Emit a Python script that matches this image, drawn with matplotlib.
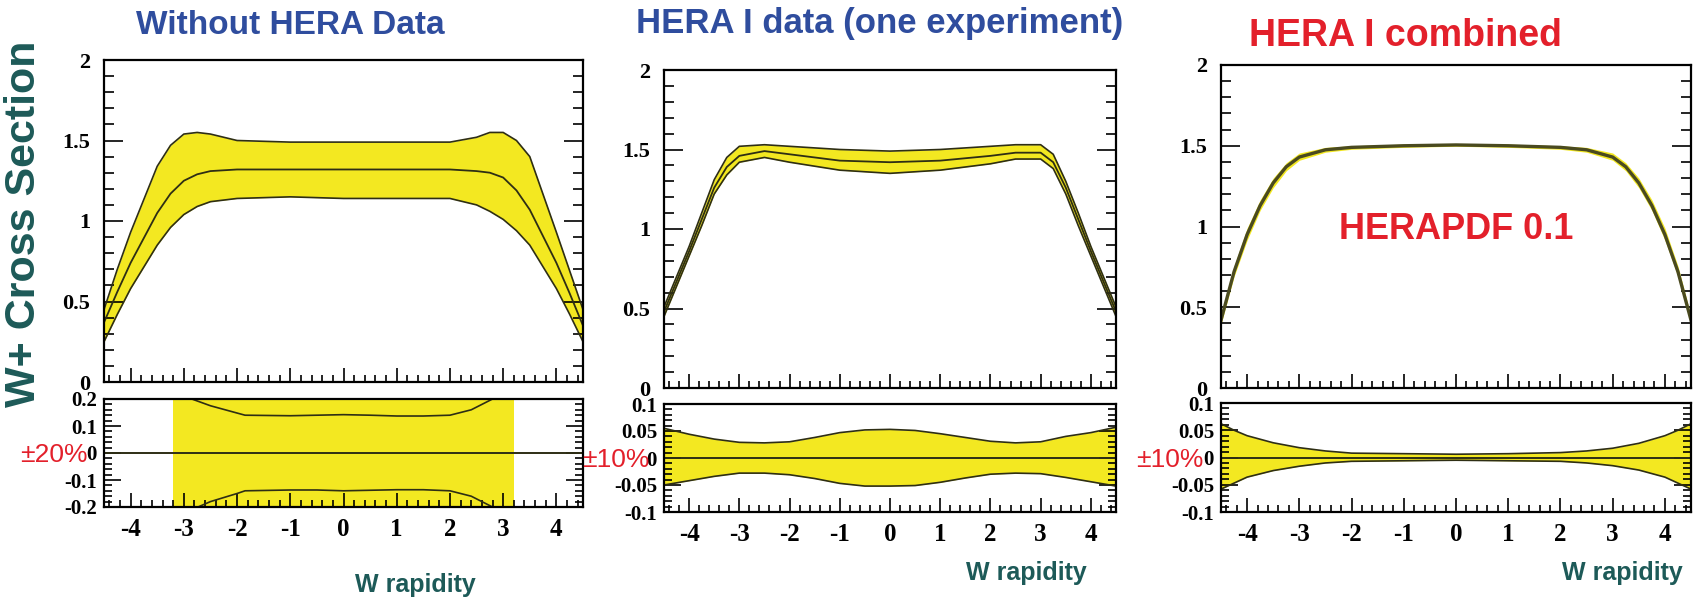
import matplotlib
matplotlib.use('Agg')
import matplotlib.pyplot as plt
from matplotlib.ticker import MultipleLocator, FormatStrFormatter

plt.rcParams['axes.unicode_minus'] = False

# W+ cross section vs W rapidity
# panel 1: without HERA data
p1_x = [-4.5, -4.25, -4.0, -3.5, -3.25, -3.0, -2.75, -2.5, -2.0, -1.0, 0.0, 1.0, 2.0, 2.5, 2.75, 3.0, 3.25, 3.5, 4.0, 4.25, 4.5]
p1_mid = [0.37, 0.56, 0.74, 1.05, 1.17, 1.25, 1.29, 1.31, 1.32, 1.32, 1.32, 1.32, 1.32, 1.31, 1.30, 1.27, 1.19, 1.07, 0.74, 0.55, 0.35]
p1_up = [0.45, 0.70, 0.93, 1.34, 1.47, 1.54, 1.55, 1.54, 1.50, 1.49, 1.49, 1.49, 1.49, 1.52, 1.55, 1.55, 1.50, 1.40, 0.93, 0.69, 0.45]
p1_lo = [0.25, 0.42, 0.58, 0.85, 0.96, 1.04, 1.09, 1.12, 1.14, 1.15, 1.14, 1.14, 1.14, 1.10, 1.06, 1.01, 0.94, 0.85, 0.58, 0.42, 0.25]
# ratio band panel 1 (shaded block spans the x range below)
r1_x = [-3.2, -3.0, -2.85, -2.5, -2.0, -1.85, -1.0, -0.5, 0.0, 0.5, 1.0, 1.5, 2.0, 2.4, 2.8, 3.0, 3.2]
r1_up = [0.25, 0.22, 0.20, 0.175, 0.148, 0.14, 0.138, 0.14, 0.142, 0.14, 0.137, 0.137, 0.14, 0.16, 0.20, 0.22, 0.25]
r1_lo = [-0.25, -0.23, -0.21, -0.18, -0.15, -0.14, -0.137, -0.137, -0.14, -0.138, -0.136, -0.136, -0.14, -0.16, -0.20, -0.22, -0.25]

# panel 2: HERA I data (one experiment)
p2_x = [-4.5, -4.25, -4.0, -3.75, -3.5, -3.25, -3.0, -2.5, -2.0, -1.0, 0.0, 1.0, 2.0, 2.5, 3.0, 3.25, 3.5, 3.75, 4.0, 4.25, 4.5]
p2_mid = [0.48, 0.67, 0.86, 1.06, 1.26, 1.39, 1.46, 1.49, 1.47, 1.43, 1.42, 1.43, 1.46, 1.48, 1.48, 1.42, 1.26, 1.06, 0.86, 0.67, 0.48]
p2_up = [0.51, 0.70, 0.89, 1.10, 1.31, 1.45, 1.52, 1.53, 1.52, 1.50, 1.49, 1.50, 1.52, 1.53, 1.53, 1.47, 1.30, 1.10, 0.89, 0.70, 0.51]
p2_lo = [0.45, 0.64, 0.83, 1.02, 1.22, 1.34, 1.42, 1.45, 1.42, 1.37, 1.35, 1.37, 1.41, 1.44, 1.44, 1.38, 1.22, 1.02, 0.83, 0.64, 0.45]
r2_x = [-4.5, -4.0, -3.5, -3.0, -2.5, -2.0, -1.5, -1.0, -0.5, 0.0, 0.5, 1.0, 1.5, 2.0, 2.5, 3.0, 3.5, 4.0, 4.5]
r2_up = [0.055, 0.044, 0.035, 0.029, 0.028, 0.030, 0.038, 0.047, 0.052, 0.053, 0.051, 0.045, 0.038, 0.031, 0.028, 0.030, 0.040, 0.047, 0.057]
r2_lo = [-0.050, -0.042, -0.034, -0.028, -0.028, -0.031, -0.038, -0.047, -0.052, -0.052, -0.051, -0.045, -0.037, -0.030, -0.028, -0.029, -0.036, -0.044, -0.052]

# panel 3: HERA I combined (HERAPDF 0.1)
p3_x = [-4.5, -4.25, -4.0, -3.75, -3.5, -3.25, -3.0, -2.5, -2.0, -1.0, 0.0, 1.0, 2.0, 2.5, 3.0, 3.25, 3.5, 3.75, 4.0, 4.25, 4.5]
p3_mid = [0.42, 0.72, 0.95, 1.13, 1.27, 1.37, 1.43, 1.475, 1.49, 1.50, 1.505, 1.50, 1.49, 1.475, 1.43, 1.37, 1.27, 1.13, 0.95, 0.72, 0.42]
p3_up = [0.445, 0.755, 0.99, 1.165, 1.30, 1.395, 1.455, 1.49, 1.50, 1.51, 1.513, 1.51, 1.50, 1.49, 1.455, 1.395, 1.30, 1.165, 0.99, 0.755, 0.445]
p3_lo = [0.395, 0.69, 0.915, 1.10, 1.24, 1.345, 1.41, 1.46, 1.478, 1.49, 1.497, 1.49, 1.478, 1.46, 1.41, 1.345, 1.24, 1.10, 0.915, 0.69, 0.395]
r3_x = [-4.5, -4.25, -4.0, -3.5, -3.0, -2.5, -2.0, -1.0, 0.0, 1.0, 2.0, 2.5, 3.0, 3.5, 4.0, 4.25, 4.5]
r3_up = [0.062, 0.050, 0.040, 0.027, 0.018, 0.012, 0.008, 0.007, 0.006, 0.007, 0.009, 0.012, 0.017, 0.026, 0.040, 0.050, 0.062]
r3_lo = [-0.058, -0.047, -0.036, -0.024, -0.016, -0.010, -0.007, -0.006, -0.005, -0.006, -0.007, -0.010, -0.015, -0.023, -0.036, -0.047, -0.058]

titles = ['Without HERA Data', 'HERA I data (one experiment)', 'HERA I combined']
ratio_labels = ['\u00b120%', '\u00b110%', '\u00b110%']

W, H = 1703, 599
fig = plt.figure(figsize=(W / 100, H / 100), dpi=100)

YELLOW = '#f3e821'
LINE = '#2e2e14'
BLUE = '#2f4d9e'
RED = '#e3202b'
TEAL = '#1d5a58'
SERIF = 'Liberation Serif'
SANS = 'Liberation Sans'


def rect(x0, x1, y0, y1):
    return [x0 / W, 1 - y1 / H, (x1 - x0) / W, (y1 - y0) / H]


def frame(ax, ymaj, ymin, ylen=(14, 7)):
    for s in ax.spines.values():
        s.set_linewidth(1.6)
    ax.set_xlim(-4.5, 4.5)
    ax.xaxis.set_major_locator(MultipleLocator(1))
    ax.xaxis.set_minor_locator(MultipleLocator(0.2))
    ax.yaxis.set_major_locator(MultipleLocator(ymaj))
    ax.yaxis.set_minor_locator(MultipleLocator(ymin))
    ax.tick_params(axis='both', which='both', direction='in', top=False, right=True, width=1.2)
    ax.tick_params(axis='x', which='major', length=10)
    ax.tick_params(axis='x', which='minor', length=5)
    ax.tick_params(axis='y', which='major', length=ylen[0])
    ax.tick_params(axis='y', which='minor', length=ylen[1])
    ax.yaxis.set_major_formatter(FormatStrFormatter('%g'))


boxes = [
    ((104, 583, 60, 382), (104, 583, 399, 507)),
    ((664, 1116, 70, 388), (664, 1116, 404, 512)),
    ((1221, 1691, 65, 388), (1221, 1691, 403, 512)),
]
tops = [(p1_x, p1_lo, p1_mid, p1_up), (p2_x, p2_lo, p2_mid, p2_up), (p3_x, p3_lo, p3_mid, p3_up)]
ratios = [(r1_x, r1_lo, r1_up), (r2_x, r2_lo, r2_up), (r3_x, r3_lo, r3_up)]

for i in range(3):
    tb, rb = boxes[i]
    ax = fig.add_axes(rect(*tb))
    x, lo, mid, up = tops[i]
    ax.fill_between(x, lo, up, color=YELLOW, lw=0)
    if i < 2:
        ax.plot(x, up, color=LINE, lw=1.2)
        ax.plot(x, lo, color=LINE, lw=1.2)
        ax.plot(x, mid, color=LINE, lw=1.3)
    else:
        ax.plot(x, mid, color='#4a4a20', lw=2.4)
    ax.set_ylim(0, 2)
    frame(ax, 0.5, 0.1)
    ax.tick_params(axis='y', labelsize=16, pad=10)
    ax.tick_params(axis='x', labelbottom=False)
    for lab in ax.get_yticklabels():
        lab.set_fontfamily(SERIF)
        lab.set_fontweight('bold')

    rx = fig.add_axes(rect(*rb))
    xr, rlo, rup = ratios[i]
    if i == 0:
        rx.axvspan(xr[0], xr[-1], color=YELLOW, lw=0)
        rx.set_ylim(-0.2, 0.2)
        frame(rx, 0.1, 0.02, ylen=(12, 6))
    else:
        rx.fill_between(xr, rlo, rup, color=YELLOW, lw=0)
        rx.set_ylim(-0.1, 0.1)
        frame(rx, 0.05, 0.01, ylen=(12, 6))
    rx.plot(xr, rup, color=LINE, lw=1.2)
    rx.plot(xr, rlo, color=LINE, lw=1.2)
    rx.axhline(0, color=LINE, lw=1.4)
    rx.tick_params(axis='y', labelsize=15, pad=5)
    rx.tick_params(axis='x', labelsize=18, pad=8)
    for lab in rx.get_yticklabels() + rx.get_xticklabels():
        lab.set_fontfamily(SERIF)
        lab.set_fontweight('bold')

    if i == 2:
        ax.text(0, 0.98, 'HERAPDF 0.1', color=RED, fontsize=26, fontweight='bold',
                family=SANS, ha='center', va='center')

# titles and labels
fig.text(290 / W, 1 - 25 / H, titles[0], color=BLUE, fontsize=24, fontweight='bold', family=SANS, ha='center', va='center')
fig.text(880 / W, 1 - 24 / H, titles[1], color=BLUE, fontsize=25, fontweight='bold', family=SANS, ha='center', va='center')
fig.text(1405 / W, 1 - 36 / H, titles[2], color=RED, fontsize=27, fontweight='bold', family=SANS, ha='center', va='center')

fig.text(54 / W, 1 - 455 / H, ratio_labels[0], color=RED, fontsize=19, family=SANS, ha='center', va='center')
fig.text(616 / W, 1 - 460 / H, ratio_labels[1], color=RED, fontsize=19, family=SANS, ha='center', va='center')
fig.text(1170 / W, 1 - 460 / H, ratio_labels[2], color=RED, fontsize=19, family=SANS, ha='center', va='center')

fig.text(24 / W, 1 - 224 / H, 'W+ Cross Section', color=TEAL, fontsize=31, fontweight='bold',
         family=SANS, rotation=90, ha='center', va='center')

for xc, yb in [(415, 592), (1026, 580), (1622, 580)]:
    fig.text(xc / W, 1 - yb / H, 'W rapidity', color=TEAL, fontsize=18, fontweight='bold',
             family=SANS, ha='center', va='baseline')

fig.savefig('out.png', dpi=100)
